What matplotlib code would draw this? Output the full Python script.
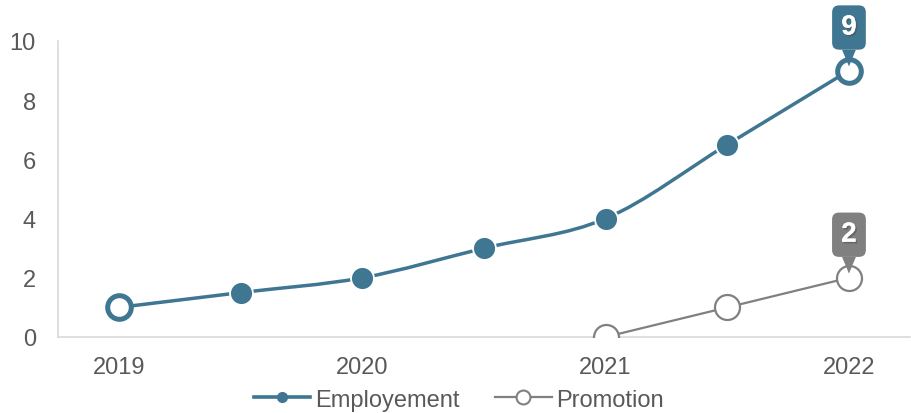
import numpy as np
import matplotlib.pyplot as plt
from matplotlib.path import Path
from matplotlib.patches import PathPatch
from matplotlib.lines import Line2D
import matplotlib.patheffects as pe

plt.rcParams['font.family'] = ['Liberation Sans', 'DejaVu Sans']

years = [2019, 2019.5, 2020, 2020.5, 2021, 2021.5, 2022]
employment = [1, 1.5, 2, 3, 4, 6.5, 9]
promotion = [np.nan, np.nan, np.nan, np.nan, 0, 1, 2]
tick_years = [2019, 2020, 2021, 2022]
y_ticks = [0, 2, 4, 6, 8, 10]

blue = '#3F7691'
gray = '#808080'
text_gray = '#595959'


def smooth_path(x, y):
    # Excel-style smoothed line: Catmull-Rom segments as cubic Beziers
    pts = np.column_stack([x, y]).astype(float)
    n = len(pts)
    verts = [pts[0]]
    codes = [Path.MOVETO]
    for i in range(n - 1):
        p0 = pts[max(i - 1, 0)]
        p1 = pts[i]
        p2 = pts[i + 1]
        p3 = pts[min(i + 2, n - 1)]
        c1 = p1 + (p2 - p0) / 6.0
        c2 = p2 - (p3 - p1) / 6.0
        verts += [c1, c2, p2]
        codes += [Path.CURVE4] * 3
    return Path(verts, codes)


fig = plt.figure(figsize=(9.12, 4.14), dpi=100)
ax = fig.add_axes([0.0636, 0.1836, 0.934, 0.715])

ax.add_patch(PathPatch(smooth_path(years, employment), fc='none', ec=blue,
                       lw=2.5, capstyle='round', zorder=3))
ax.plot(years[1:-1], employment[1:-1], ls='none', marker='o', ms=16.5,
        mfc=blue, mec='white', mew=1.3, zorder=4)
ax.plot([years[0], years[-1]], [employment[0], employment[-1]], ls='none',
        marker='o', ms=17, mfc='white', mec=blue, mew=3.6, zorder=4)

ax.plot(years, promotion, color=gray, lw=1.6, marker='o', ms=18,
        mfc='white', mec=gray, mew=1.6, zorder=3)

for val, col in [(employment[-1], blue), (promotion[-1], gray)]:
    t = ax.annotate(f'{val:g}', xy=(years[-1], val), xytext=(0, 31),
                    textcoords='offset points', ha='center', va='center',
                    fontsize=20, fontweight='bold', color='white',
                    bbox=dict(boxstyle='round,pad=0.33,rounding_size=0.25',
                              fc=col, ec='none'),
                    arrowprops=dict(arrowstyle='wedge,tail_width=0.5,shrink_factor=0.5',
                                    fc=col, ec='none', shrinkA=0, shrinkB=3),
                    annotation_clip=False, zorder=6)
    t.set_path_effects([pe.withSimplePatchShadow(offset=(1.2, -1.2), alpha=0.5),
                        pe.Normal()])

ax.set_xlim(2018.75, 2022.25)
ax.set_ylim(0, 10)
ax.set_xticks(tick_years)
ax.set_xticklabels([str(y) for y in tick_years])
ax.set_yticks(y_ticks)
ax.tick_params(length=0, labelsize=17, labelcolor=text_gray)
ax.tick_params(axis='x', pad=14)
ax.tick_params(axis='y', pad=16)
for s in ['top', 'right']:
    ax.spines[s].set_visible(False)
for s in ['left', 'bottom']:
    ax.spines[s].set_color('#D9D9D9')
    ax.spines[s].set_linewidth(1.2)

handles = [
    Line2D([], [], color=blue, lw=2.6, marker='o', ms=7, mfc=blue, mec=blue),
    Line2D([], [], color=gray, lw=1.6, marker='o', ms=10, mfc='white', mec=gray, mew=1.5),
]
fig.legend(handles, ['Employement', 'Promotion'], loc='center',
           bbox_to_anchor=(0.503, 0.032), ncol=2, frameon=False,
           fontsize=17, labelcolor=text_gray, handlelength=2.4,
           handletextpad=0.2, columnspacing=1.5)

fig.savefig('out.png', dpi=100)
